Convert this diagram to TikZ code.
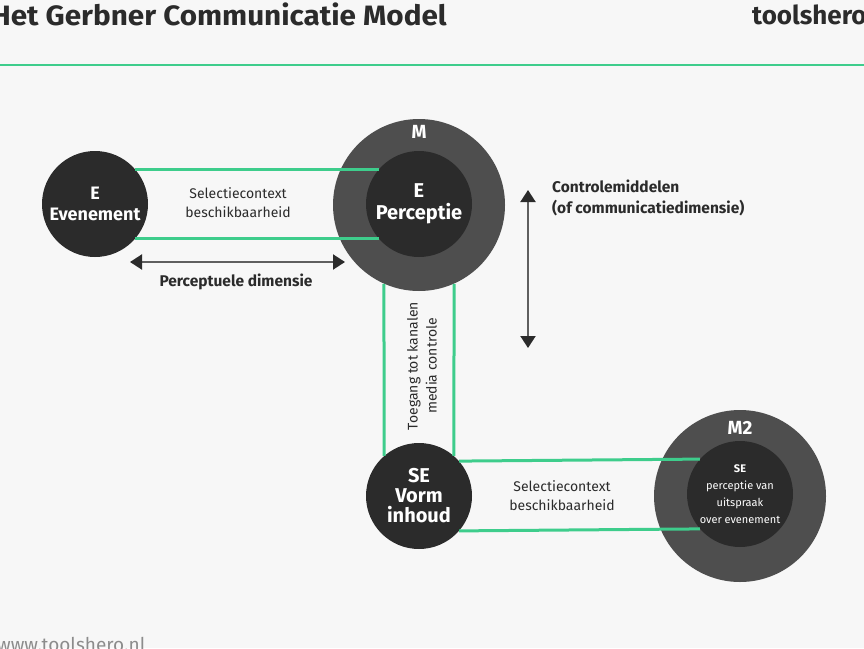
\documentclass[tikz,border=0pt]{standalone}
\usepackage{fontspec}
\setmainfont{Fira Sans}
\newfontfamily\headfont[FakeStretch=1.06]{Fira Sans}
\usetikzlibrary{arrows.meta,positioning,calc}
\definecolor{bg}{RGB}{247,247,247}
\definecolor{mint}{RGB}{62,205,140}
\definecolor{ink}{RGB}{43,43,43}
\definecolor{shell}{RGB}{78,78,78}
\definecolor{shaft}{RGB}{95,95,95}
\definecolor{urlgray}{RGB}{140,140,140}
\tikzset{
  every picture/.style={font=\fontsize{14}{19}\selectfont},
  core/.style={circle,fill=ink,text=white,minimum size=106pt,inner sep=0pt,
    align=center,font=\bfseries\fontsize{18}{21}\selectfont},
  halo/.style={circle,fill=shell,minimum size=172pt,inner sep=0pt},
  link/.style={mint,line width=3pt},
  dim/.style={shaft,line width=2pt,
    {Triangle[length=12pt,width=15pt,color=ink]}-{Triangle[length=12pt,width=15pt,color=ink]}},
  tag/.style={text=ink,align=center},
  heading/.style={text=ink,font=\bfseries\fontsize{15.5}{21}\selectfont},
}

\begin{document}
\begin{tikzpicture}[x=1pt,y=-1pt]
  \fill[bg] (0,0) rectangle (864,648);
  \useasboundingbox (0,0) rectangle (864,648);
  % header
  \node[anchor=base east,inner sep=0pt,text=ink,font=\headfont\bfseries\fontsize{28}{30}\selectfont]
    (title) at (447,25) {Het Gerbner Communicatie Model};
  \node[anchor=base west,inner sep=0pt,text=ink,font=\bfseries\fontsize{26}{28}\selectfont]
    (brand) at (752,24) {toolshero};
  \draw[mint,line width=2.5pt] (0,65) -- (864,65);
  % circles
  \node[halo] (m) at (419,205) {};
  \node[core,font=\bfseries\fontsize{20}{22}\selectfont] (perc) at (419,204) {E\\Perceptie};
  \node[text=white,font=\bfseries\fontsize{19}{20}\selectfont] (mlabel) at (419,132) {M};
  \node[core] (ev) at (95,204) {E\\Evenement};
  \node[core,font=\bfseries\fontsize{20}{20}\selectfont] (se) at (419,496) {SE\\Vorm\\inhoud};
  \node[halo] (mtwo) at (740,496) {};
  \node[text=white,font=\bfseries\fontsize{19}{20}\selectfont] (mtwolabel) at (740,428) {M2};
  \node[core,font=\fontsize{11}{17}\selectfont] (sperc) at (740,494)
    {\textbf{SE}\\perceptie van\\uitspraak\\over evenement};
  % channels
  \draw[link] (ev.41) -- (perc.139);
  \draw[link] (ev.-41) -- (perc.-139);
  \draw[link] (m.-114) -- (se.131);
  \draw[link] (m.-66) -- (se.49);
  \draw[link] (se.41) -- (sperc.139);
  \draw[link] (se.-41) -- (sperc.-139);
  \node[tag] (sel) at (238,203) {Selectiecontext\\beschikbaarheid};
  \node[tag] (seltwo) at (562,496) {Selectiecontext\\beschikbaarheid};
  \node[tag,rotate=90] (access) at (422,366) {Toegang tot kanalen\\media controle};
  % dimensions
  \coordinate (pl) at (130,262);
  \coordinate (pr) at (345,262);
  \draw[dim] (pl) -- (pr);
  \node[heading] (perclbl) at (236,282) {Perceptuele dimensie};
  \coordinate (ct) at (528,190);
  \coordinate (cb) at (528,348);
  \draw[dim] (ct) -- (cb);
  \node[heading,anchor=north west,align=left,inner sep=0pt] (ctrl) at (552,180)
    {Controlemiddelen\\(of communicatiedimensie)};
  % footer
  \node[anchor=base west,inner sep=0pt,text=urlgray,font=\fontsize{19}{20}\selectfont]
    (url) at (-3,651) {www.toolshero.nl};
\end{tikzpicture}
\end{document}
